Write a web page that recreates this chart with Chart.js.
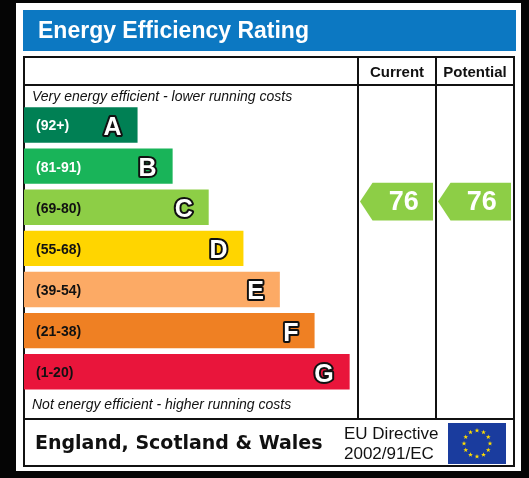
<!DOCTYPE html>
<html lang="en">
  <head>
    <meta charset="UTF-8" />
    <script src="https://cdn.jsdelivr.net/npm/chart.js"></script>
    <style>
      body {
        margin: 0;
        padding: 0;
        background-color: #050505;
      }
      #epc {
        display: block;
      }
    </style>
  </head>
  <body>
    <canvas id="epc" width="529" height="478"></canvas>

    <script>
      const bands = ["A", "B", "C", "D", "E", "F", "G"];
      const bandRanges = ["(92+)", "(81-91)", "(69-80)", "(55-68)", "(39-54)", "(21-38)", "(1-20)"];
      const bandMin = [92, 81, 69, 55, 39, 21, 1];
      const bandMax = [100, 91, 80, 68, 54, 38, 20];
      const barLengths = [34, 44.5, 55.3, 65.7, 76.6, 87, 97.5];
      const bandColors = ["#008054", "#19b459", "#8dce46", "#ffd500", "#fcaa65", "#ef8023", "#e9153b"];
      const rangeTextColors = ["#ffffff", "#ffffff", "#111111", "#111111", "#111111", "#111111", "#111111"];
      const ratingColumns = ["Current", "Potential"];
      const ratingValues = [76, 76];

      const W = 529;
      const H = 478;
      // table frame
      const frame = { left: 24, right: 514, top: 57, header: 85, footer: 419, bottom: 466 };
      const colEdges = [358, 436, 514];

      const SANS = '"Liberation Sans", Arial, sans-serif';

      function drawStar(ctx, cx, cy, r) {
        ctx.beginPath();
        for (let k = 0; k < 10; k++) {
          const rad = k % 2 === 0 ? r : r * 0.4;
          const a = -Math.PI / 2 + (k * Math.PI) / 5;
          const px = cx + rad * Math.cos(a);
          const py = cy + rad * Math.sin(a);
          if (k === 0) ctx.moveTo(px, py);
          else ctx.lineTo(px, py);
        }
        ctx.closePath();
        ctx.fill();
      }

      const framePlugin = {
        id: "epcFrame",
        beforeDraw(chart) {
          const ctx = chart.ctx;
          ctx.save();
          ctx.fillStyle = "#050505";
          ctx.fillRect(0, 0, W, H);
          ctx.fillStyle = "#ffffff";
          ctx.fillRect(16, 3, 505, 468);

          // title bar
          ctx.fillStyle = "#0c78c2";
          ctx.fillRect(23, 10, 493, 41);
          ctx.fillStyle = "#ffffff";
          ctx.font = "bold 23px " + SANS;
          ctx.textBaseline = "alphabetic";
          ctx.fillText("Energy Efficiency Rating", 38, 38);

          // table lines
          ctx.strokeStyle = "#111111";
          ctx.lineWidth = 2;
          ctx.strokeRect(frame.left, frame.top, frame.right - frame.left, frame.bottom - frame.top);
          ctx.beginPath();
          ctx.moveTo(frame.left, frame.header);
          ctx.lineTo(frame.right, frame.header);
          ctx.moveTo(frame.left, frame.footer);
          ctx.lineTo(frame.right, frame.footer);
          ctx.moveTo(colEdges[0], frame.top);
          ctx.lineTo(colEdges[0], frame.footer);
          ctx.moveTo(colEdges[1], frame.top);
          ctx.lineTo(colEdges[1], frame.footer);
          ctx.stroke();

          // column headers
          ctx.fillStyle = "#111111";
          ctx.font = "bold 15px " + SANS;
          ctx.textAlign = "center";
          ratingColumns.forEach((c, i) => {
            ctx.fillText(c, (colEdges[i] + colEdges[i + 1]) / 2, 77);
          });

          ctx.textAlign = "left";
          ctx.font = "italic 14px " + SANS;
          ctx.fillText("Very energy efficient - lower running costs", 32, 101);
          ctx.fillText("Not energy efficient - higher running costs", 32, 409);

          // footer
          ctx.font = 'bold 19px "DejaVu Sans", Verdana, sans-serif';
          ctx.fillText("England, Scotland & Wales", 35, 449);
          ctx.font = "17px " + SANS;
          ctx.fillText("EU Directive", 344, 439);
          ctx.fillText("2002/91/EC", 344, 459);

          // EU flag
          ctx.fillStyle = "#1a3c9e";
          ctx.fillRect(448, 423, 58, 41);
          ctx.fillStyle = "#ffdd00";
          for (let k = 0; k < 12; k++) {
            const a = (k * Math.PI) / 6;
            drawStar(ctx, 477 + 13 * Math.cos(a), 443.5 + 13 * Math.sin(a), 2.6);
          }
          ctx.restore();
        },
        afterDatasetsDraw(chart) {
          const ctx = chart.ctx;
          const meta = chart.getDatasetMeta(0);
          const yScale = chart.scales.y;
          ctx.save();

          // band labels and letters
          meta.data.forEach((bar, i) => {
            const yc = bar.y;
            ctx.textAlign = "left";
            ctx.textBaseline = "alphabetic";
            ctx.font = "bold 14px " + SANS;
            ctx.fillStyle = rangeTextColors[i];
            ctx.fillText(bandRanges[i], 36, yc + 5.5);

            ctx.textAlign = "right";
            ctx.font = "bold 25px " + SANS;
            ctx.lineJoin = "round";
            ctx.lineWidth = 4;
            ctx.strokeStyle = "#111111";
            ctx.strokeText(bands[i], bar.x - 16, yc + 10);
            ctx.fillStyle = "#ffffff";
            ctx.fillText(bands[i], bar.x - 16, yc + 10);
          });

          // rating arrows
          const catH = (yScale.bottom - yScale.top) / bands.length;
          ratingValues.forEach((v, c) => {
            const i = bands.findIndex((b, k) => v >= bandMin[k] && v <= bandMax[k]);
            const frac = (bandMax[i] - v) / (bandMax[i] - bandMin[i]);
            const yc = yScale.getPixelForValue(i) + (frac - 0.5) * catH;
            const h = catH * 0.915;
            const x0 = colEdges[c] + 2;
            const x1 = colEdges[c + 1] - 3;
            const tip = h / 3;
            ctx.fillStyle = bandColors[i];
            ctx.beginPath();
            ctx.moveTo(x0, yc);
            ctx.lineTo(x0 + tip, yc - h / 2);
            ctx.lineTo(x1, yc - h / 2);
            ctx.lineTo(x1, yc + h / 2);
            ctx.lineTo(x0 + tip, yc + h / 2);
            ctx.closePath();
            ctx.fill();

            ctx.fillStyle = "#ffffff";
            ctx.font = "bold 27px " + SANS;
            ctx.textAlign = "center";
            ctx.textBaseline = "alphabetic";
            ctx.fillText(String(v), (x0 + tip + x1) / 2 + 1, yc + 8);
          });
          ctx.restore();
        }
      };

      new Chart(document.getElementById("epc"), {
        type: "bar",
        data: {
          labels: bands,
          datasets: [{
            data: barLengths,
            backgroundColor: bandColors,
            borderWidth: 0,
            categoryPercentage: 1,
            barPercentage: 0.861
          }]
        },
        options: {
          indexAxis: "y",
          responsive: false,
          animation: false,
          devicePixelRatio: 1,
          layout: { padding: { left: 24, right: W - colEdges[0], top: 104.4, bottom: H - 392.3 } },
          scales: {
            x: { display: false, min: 0, max: 100 },
            y: { display: false }
          },
          plugins: {
            legend: { display: false },
            tooltip: { enabled: false }
          }
        },
        plugins: [framePlugin]
      });
    </script>
  </body>
</html>
